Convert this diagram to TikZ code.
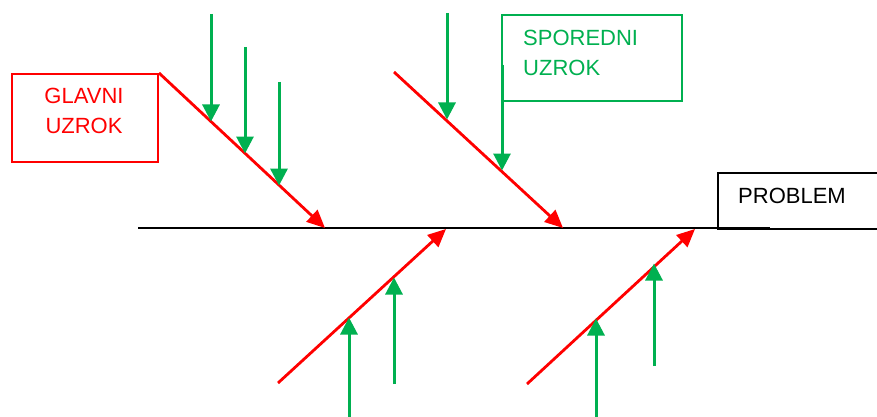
\documentclass[tikz,border=0pt]{standalone}
\usepackage{fontspec}
\setmainfont{Liberation Sans}
\usetikzlibrary{arrows.meta}
\definecolor{cgreen}{RGB}{0,176,80}
\definecolor{cred}{RGB}{255,0,0}
\begin{document}
\begin{tikzpicture}[x=1pt,y=-1pt,
  bigtext/.style={font=\fontsize{22}{30}\selectfont, inner sep=0pt},
  spine/.style={draw=black, line width=2.2pt},
  redarrow/.style={draw=cred, line width=2.8pt, -{Triangle[length=18pt,width=16pt]}},
  greenarrow/.style={draw=cgreen, line width=3pt, -{Triangle[length=17pt,width=17pt]}},
  boxbase/.style={inner sep=0pt, anchor=north west}
]
\useasboundingbox[fill=white] (0,0) rectangle (877,417);

% spine
\coordinate (spineL) at (138,228);
\coordinate (spineR) at (770,228);
\draw[spine] (spineL) -- (spineR);

% boxes
\node[boxbase, draw=cred, line width=2pt, minimum width=146pt, minimum height=88pt] (glavni) at (11,73) {};
\node[bigtext, anchor=north, align=center, text=cred] (glavniT) at (84,88) {GLAVNI\\UZROK};

\node[boxbase, draw=cgreen, line width=2pt, minimum width=180pt, minimum height=86pt] (sporedni) at (501,14) {};
\node[bigtext, anchor=north west, align=left, text=cgreen] (sporedniT) at (523,30) {SPOREDNI\\UZROK};

\node[boxbase, draw=black, line width=2pt, minimum width=170pt, minimum height=56pt] (problem) at (717,172) {};
\node[bigtext, anchor=base west] (problemT) at (738,203) {PROBLEM};

% main cause arrows
\coordinate (e1) at (325,228);
\coordinate (s2) at (394,72);  \coordinate (e2) at (563,228);
\coordinate (s3) at (278,383); \coordinate (e3) at (446,229);
\coordinate (s4) at (527,384); \coordinate (e4) at (695,229);
\draw[redarrow] (glavni.north east) -- (e1);
\draw[redarrow] (s2) -- (e2);
\draw[redarrow] (s3) -- (e3);
\draw[redarrow] (s4) -- (e4);

% secondary cause arrows
\coordinate (g1s) at (211,14);  \coordinate (g1e) at (211,121.5);
\coordinate (g2s) at (245,47);  \coordinate (g2e) at (245,153.5);
\coordinate (g3s) at (279,82);  \coordinate (g3e) at (279,185.6);
\coordinate (g4s) at (447,13);  \coordinate (g4e) at (447,119.5);
\coordinate (g5s) at (502,65);  \coordinate (g5e) at (502,170.5);
\coordinate (g6s) at (349,417); \coordinate (g6e) at (349,317.5);
\coordinate (g7s) at (394,384); \coordinate (g7e) at (394,277.5);
\coordinate (g8s) at (596,417); \coordinate (g8e) at (596,318.5);
\coordinate (g9s) at (654,366); \coordinate (g9e) at (654,263.5);
\foreach \i in {1,...,9}{\draw[greenarrow] (g\i s) -- (g\i e);}
\end{tikzpicture}
\end{document}
